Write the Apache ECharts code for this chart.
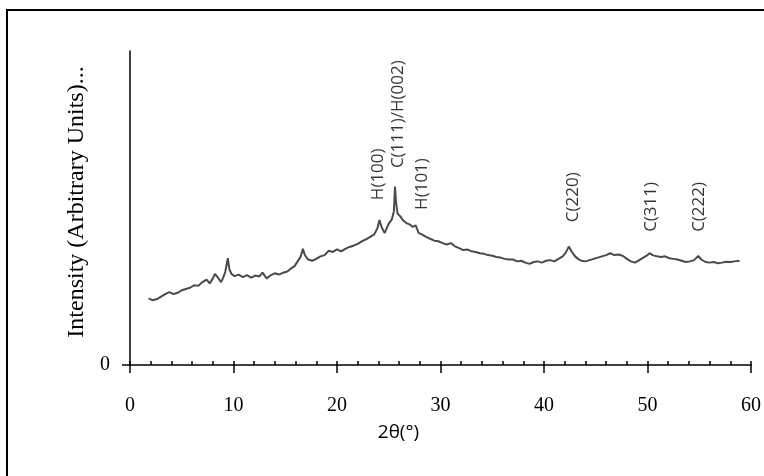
<!DOCTYPE html>
<html>
<head>
    <meta charset="utf-8">
    <script src="https://cdn.jsdelivr.net/npm/echarts@6/dist/echarts.min.js"></script>
    <style>
        *{
            margin:0;
            padding:0;
        }
        body{ background:#fff; }
    </style>
</head>
<body>
    <div id="main" style="width: 764px;height:476px;"></div>
    <script type="text/javascript">

    // 2theta (deg) / intensity (arbitrary, 0..100 axis)
    var twoTheta = [1.8,2.2,2.6,3.0,3.4,3.8,4.2,4.6,5.0,5.4,5.8,6.2,6.6,7.0,7.4,7.7,8.0,8.2,8.5,8.8,9.0,9.2,9.45,9.6,9.8,
        10.1,10.5,10.9,11.3,11.7,12.1,12.5,12.8,13.2,13.6,14.0,14.4,14.8,15.2,15.5,15.9,16.2,16.5,16.7,16.9,17.2,17.6,
        18.0,18.4,18.8,19.2,19.6,20.0,20.4,20.8,21.2,21.6,22.0,22.4,22.8,23.2,23.6,23.9,24.1,24.3,24.6,24.8,25.0,25.3,
        25.5,25.6,25.7,25.85,26.1,26.4,26.7,27.0,27.3,27.6,27.9,28.2,28.6,29.0,29.4,29.8,30.2,30.6,31.0,31.4,31.8,32.2,
        32.6,33.0,33.4,33.8,34.2,34.6,35.0,35.4,35.8,36.2,36.6,37.0,37.4,37.8,38.2,38.6,39.0,39.4,39.8,40.2,40.6,41.0,
        41.4,41.8,42.1,42.4,42.7,43.0,43.3,43.6,44.0,44.4,44.8,45.2,45.6,46.0,46.4,46.8,47.2,47.6,48.0,48.4,48.8,49.2,
        49.6,50.0,50.2,50.5,50.9,51.3,51.7,52.1,52.5,52.9,53.3,53.7,54.1,54.5,54.9,55.2,55.6,56.0,56.4,56.8,57.2,57.6,
        58.0,58.4,58.9];
    var intensity = [21.2,20.6,21.0,21.8,22.6,23.2,22.6,23.0,23.8,24.2,24.6,25.4,25.2,26.4,27.2,26.0,27.5,29.0,27.8,26.4,27.8,29.6,34.0,30.5,29.0,
        28.3,28.8,28.0,28.6,27.8,28.5,28.2,29.4,27.6,28.6,29.2,28.8,29.4,29.8,30.6,31.5,33.0,34.6,37.0,35.0,33.6,33.2,
        33.8,34.6,35.0,36.4,36.0,36.8,36.2,37.0,37.6,38.0,38.6,39.4,40.0,40.8,41.6,43.5,46.2,44.0,42.0,43.5,45.0,46.4,
        49.0,56.8,52.0,48.2,47.4,46.0,45.2,44.8,44.0,44.5,42.0,41.6,40.8,40.2,39.6,39.4,38.8,38.4,38.8,37.8,37.2,36.6,
        36.8,36.2,36.0,35.6,35.4,35.0,34.8,34.4,34.2,33.8,33.6,33.6,33.0,33.2,32.6,32.2,32.8,33.0,32.6,33.2,33.4,33.0,
        33.8,34.6,35.8,37.7,36.0,34.6,33.8,33.2,33.0,33.4,33.8,34.2,34.6,35.0,35.6,35.0,35.2,34.8,33.8,33.0,32.6,33.4,
        34.2,35.0,35.6,35.0,34.6,34.4,34.6,34.0,33.8,33.6,33.2,32.8,33.0,33.4,34.7,33.6,32.8,32.6,32.8,32.4,32.6,32.9,
        32.8,33.0,33.2];

    // reflection labels: name, 2theta, height where the label starts
    var peakNames = ['H(100)', 'C(111)/H(002)', 'H(101)', 'C(220)', 'C(311)', 'C(222)'];
    var peakPos = [24.0, 25.9, 28.2, 42.8, 50.4, 55.0];
    var peakLabelY = [52.5, 62.7, 49.4, 45.5, 42.4, 42.4];

    var xTicks = [0, 10, 20, 30, 40, 50, 60];

    var scan = twoTheta.map(function (t, i) { return [t, intensity[i]]; });
    var peaks = peakNames.map(function (n, i) { return { name: n, value: [peakPos[i], peakLabelY[i]] }; });

    var serif = '"Liberation Serif", "DejaVu Serif", serif';

    var myChart = echarts.init(document.getElementById('main'));

    myChart.setOption({
        animation: false,
        grid: { left: 130, right: 6, top: 51, bottom: 111 },
        graphic: [{
            type: 'rect',
            shape: { x: 7, y: 10, width: 800, height: 500 },
            style: { fill: 'none', stroke: '#000', lineWidth: 2 },
            silent: true
        }],
        xAxis: [{
            type: 'value',
            min: xTicks[0],
            max: xTicks[xTicks.length - 1],
            interval: 10,
            name: '2θ(°)',
            nameLocation: 'middle',
            nameGap: 58,
            nameTextStyle: { fontFamily: 'Open Sans', fontSize: 19, color: '#000', padding: [0, 84, 0, 0] },
            axisLine: { onZero: false, lineStyle: { color: '#000', width: 1.5 } },
            axisTick: { show: true, length: 8, lineStyle: { color: '#000', width: 1.5 } },
            axisLabel: { fontFamily: serif, fontSize: 20, color: '#000', margin: 31 },
            splitLine: { show: false }
        }, {
            type: 'value',
            min: 0,
            max: 60,
            interval: 2,
            position: 'bottom',
            axisLine: { show: false },
            axisTick: { show: true, inside: true, length: 4, lineStyle: { color: '#000', width: 1.5 } },
            axisLabel: { show: false },
            splitLine: { show: false }
        }],
        yAxis: {
            type: 'value',
            min: 0,
            max: 100,
            name: 'Intensity (Arbitrary Units)...',
            nameLocation: 'middle',
            nameGap: 37,
            nameTextStyle: { fontFamily: serif, fontSize: 24, color: '#000', padding: [0, 0, 0, 12] },
            axisLine: { show: true, onZero: false, lineStyle: { color: '#000', width: 1.5 } },
            axisTick: { show: true, length: 8, customValues: [0], lineStyle: { color: '#000', width: 1.5 } },
            axisLabel: { fontFamily: serif, fontSize: 20, color: '#000', margin: 20, customValues: [0] },
            splitLine: { show: false }
        },
        series: [{
            type: 'line',
            data: scan,
            showSymbol: false,
            lineStyle: { color: '#4a4a4a', width: 2 },
            z: 2
        }, {
            type: 'scatter',
            data: peaks,
            symbolSize: 0,
            label: {
                show: true,
                position: 'inside',
                rotate: 90,
                align: 'left',
                verticalAlign: 'middle',
                formatter: '{b}',
                fontFamily: 'Open Sans',
                fontSize: 17,
                color: '#000'
            },
            z: 3
        }]
    });
</script>
</body>
</html>
